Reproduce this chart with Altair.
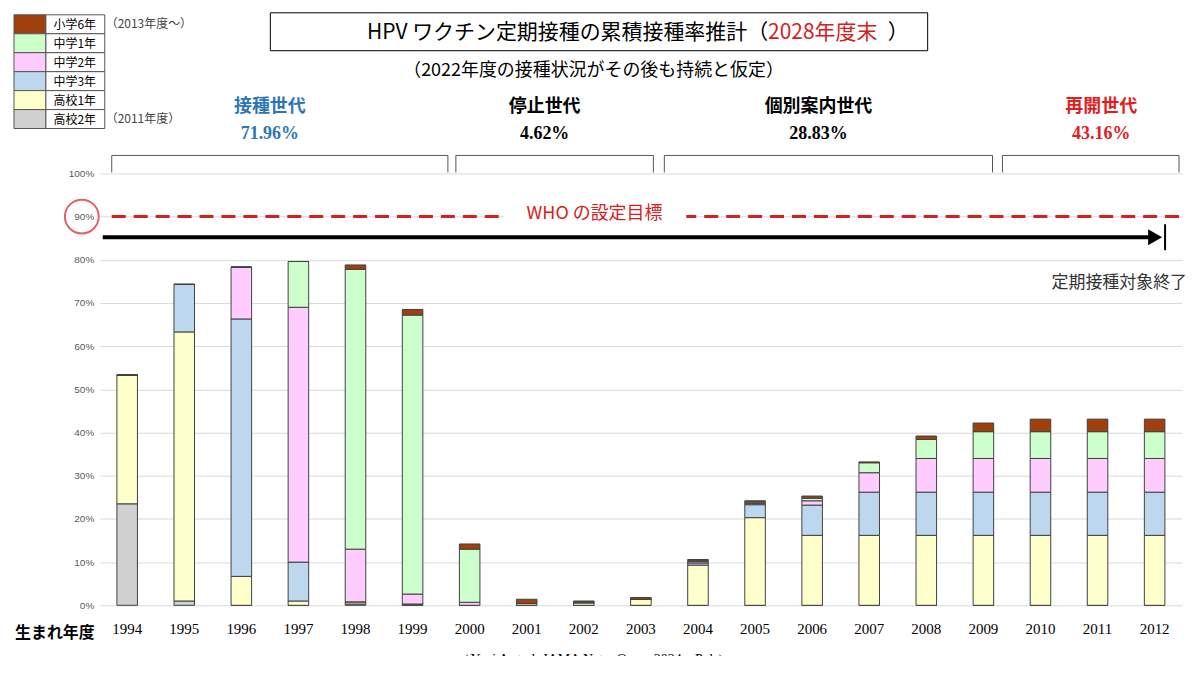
import pandas as pd
import altair as alt

years = [str(y) for y in range(1994, 2013)]
cats = ['高校2年', '高校1年', '中学3年', '中学2年', '中学1年', '小学6年']
colors = ['#d0d0d0', '#ffffcc', '#bdd7ee', '#ffccff', '#ccffcc', '#a0410d']

# values in % per cohort, bottom to top (高校2年 ... 小学6年)
koko2 = [23.5, 1.0, 0, 0, 0.3, 0, 0, 0, 0, 0, 0, 0, 0, 0, 0, 0, 0, 0, 0]
koko1 = [29.8, 62.3, 6.7, 1.0, 0.5, 0.3, 0, 0, 0.6, 1.4, 9.3, 20.3, 16.2, 16.2, 16.2, 16.2, 16.2, 16.2, 16.2]
chu3 = [0, 11.0, 59.6, 9.0, 0, 0, 0, 0, 0, 0, 0.5, 3.0, 7.0, 10.0, 10.0, 10.0, 10.0, 10.0, 10.0]
chu2 = [0, 0, 12.0, 59.0, 12.2, 2.3, 0.7, 0, 0, 0, 0.3, 0.3, 1.0, 4.5, 7.8, 7.8, 7.8, 7.8, 7.8]
chu1 = [0, 0, 0, 10.6, 64.8, 64.6, 12.3, 0.4, 0.2, 0, 0.2, 0.3, 0.6, 2.3, 4.4, 6.2, 6.2, 6.2, 6.2]
sho6 = [0, 0, 0, 0, 1.0, 1.3, 1.2, 1.0, 0.2, 0.4, 0.3, 0.3, 0.5, 0.2, 0.8, 2.0, 2.9, 2.9, 2.9]
series = [koko2, koko1, chu3, chu2, chu1, sho6]

gen_names = ['接種世代', '停止世代', '個別案内世代', '再開世代']
gen_rates = ['71.96%', '4.62%', '28.83%', '43.16%']
gen_colors = ['#2e75b6', '#000000', '#000000', '#e02020']
gen_spans = [(112, 449), (457, 655), (666, 995), (1005, 1182)]

rows = []
for k, (c, vals) in enumerate(zip(cats, series)):
    for y, v in zip(years, vals):
        rows.append({'year': y, 'cat': c, 'value': v, 'k': k})
df = pd.DataFrame(rows)

OX, OY = 100, 173  # plot origin in the page


def px(x):
    return x - OX


def py(y):
    return y - OY


bars = alt.Chart(df).mark_bar(stroke='#404040', strokeWidth=1).encode(
    x=alt.X('year:N', title=None, sort=years,
            scale=alt.Scale(paddingInner=0.64, paddingOuter=0.3),
            axis=alt.Axis(labelAngle=0, labelFont='Liberation Serif', labelFontSize=15,
                          labelColor='black', labelPadding=16, ticks=False, domain=False)),
    y=alt.Y('value:Q', title=None, stack='zero',
            scale=alt.Scale(domain=[0, 100]),
            axis=alt.Axis(values=list(range(0, 101, 10)), labelExpr="datum.value + '%'",
                          labelFontSize=10, labelColor='#595959', ticks=False, domain=False,
                          gridColor='#d9d9d9', labelPadding=6)),
    color=alt.Color('cat:N', scale=alt.Scale(domain=cats, range=colors), legend=None),
    order=alt.Order('k:Q', sort='ascending'),
)

# WHO target line
who = alt.Chart(pd.DataFrame({'v': [90]})).mark_rule(
    color='#d62020', strokeWidth=3, strokeDash=[14, 8]).encode(
    y='v:Q', x=alt.value(px(112)), x2=alt.value(px(1185)))
who_bg = alt.Chart(pd.DataFrame({'a': [0]})).mark_rect(color='white').encode(
    x=alt.value(px(505)), x2=alt.value(px(688)), y=alt.value(py(203)), y2=alt.value(py(226)))
who_txt = alt.Chart(pd.DataFrame({'t': ['WHO の設定目標']})).mark_text(
    color='#d62020', fontSize=18, font='Noto Sans CJK JP').encode(
    text='t:N', x=alt.value(px(596)), y=alt.value(py(214)))
circle = alt.Chart(pd.DataFrame({'v': [90]})).mark_point(
    shape='circle', size=1150, color='#d62020', strokeWidth=2, filled=False).encode(
    y='v:Q', x=alt.value(px(82)))

# end-of-routine arrow
arrow = alt.Chart(pd.DataFrame({'a': [0]})).mark_rule(color='black', strokeWidth=4).encode(
    x=alt.value(px(103)), x2=alt.value(px(1158)), y=alt.value(py(237)))
arrow_head = alt.Chart(pd.DataFrame({'a': [0]})).mark_point(
    shape='triangle-right', size=260, color='black', filled=True, opacity=1).encode(
    x=alt.value(px(1158)), y=alt.value(py(237)))
arrow_bar = alt.Chart(pd.DataFrame({'a': [0]})).mark_rule(color='black', strokeWidth=2).encode(
    x=alt.value(px(1168)), y=alt.value(py(224)), y2=alt.value(py(250)))
end_txt = alt.Chart(pd.DataFrame({'t': ['定期接種対象終了']})).mark_text(
    align='right', color='#333333', fontSize=17, font='Noto Sans CJK JP').encode(
    text='t:N', x=alt.value(px(1190)), y=alt.value(py(283)))

# generation brackets and labels
br_rows, lab_rows = [], []
for (x0, x1), n, r, c in zip(gen_spans, gen_names, gen_rates, gen_colors):
    br_rows += [{'x': px(x0), 'x2': px(x1), 'y': py(155), 'y2': py(155)},
                {'x': px(x0), 'x2': px(x0), 'y': py(155), 'y2': py(172)},
                {'x': px(x1), 'x2': px(x1), 'y': py(155), 'y2': py(172)}]
    lab_rows.append({'x': px((x0 + x1) / 2 - 10 if n != '再開世代' else 1104), 'n': n, 'r': r, 'c': c})
brackets = alt.Chart(pd.DataFrame(br_rows)).mark_rule(color='#555555', strokeWidth=1).encode(
    x=alt.X('x:Q', scale=None), x2='x2:Q', y=alt.Y('y:Q', scale=None), y2='y2:Q')
labdf = pd.DataFrame(lab_rows)
gen_name_txt = alt.Chart(labdf).mark_text(fontSize=18, fontWeight='bold', font='Noto Sans CJK JP').encode(
    x=alt.X('x:Q', scale=None), y=alt.value(py(106)), text='n:N',
    color=alt.Color('c:N', scale=None))
gen_rate_txt = alt.Chart(labdf).mark_text(fontSize=18, fontWeight='bold', font='Liberation Serif').encode(
    x=alt.X('x:Q', scale=None), y=alt.value(py(134)), text='r:N',
    color=alt.Color('c:N', scale=None))

# title box
title_box = alt.Chart(pd.DataFrame({'a': [0]})).mark_rect(
    fill='white', stroke='black', strokeWidth=1).encode(
    x=alt.value(px(271)), x2=alt.value(px(930)), y=alt.value(py(12)), y2=alt.value(py(50)))
t1 = alt.Chart(pd.DataFrame({'t': ['HPV ワクチン定期接種の累積接種率推計（']})).mark_text(
    align='right', fontSize=21, font='Noto Sans CJK JP', color='black').encode(
    text='t:N', x=alt.value(px(770)), y=alt.value(py(32)))
t2 = alt.Chart(pd.DataFrame({'t': ['2028年度末']})).mark_text(
    align='left', fontSize=21, font='Noto Sans CJK JP', color='#d62020').encode(
    text='t:N', x=alt.value(px(770)), y=alt.value(py(32)))
t3 = alt.Chart(pd.DataFrame({'t': ['）']})).mark_text(
    align='left', fontSize=21, font='Noto Sans CJK JP', color='black').encode(
    text='t:N', x=alt.value(px(890)), y=alt.value(py(32)))
sub = alt.Chart(pd.DataFrame({'t': ['（2022年度の接種状況がその後も持続と仮定）']})).mark_text(
    fontSize=18, font='Noto Sans CJK JP', color='black').encode(
    text='t:N', x=alt.value(px(595)), y=alt.value(py(70)))

# legend table
leg = pd.DataFrame({'cat': cats[::-1], 'c': colors[::-1], 'i': range(6)})
leg['y'] = py(14) + leg['i'] * 19
leg['y2'] = leg['y'] + 19
leg_sw = alt.Chart(leg).mark_rect(stroke='#555555', strokeWidth=1).encode(
    x=alt.value(px(14)), x2=alt.value(px(46)), y=alt.Y('y:Q', scale=None), y2='y2:Q',
    fill=alt.Fill('c:N', scale=None))
leg_box = alt.Chart(leg).mark_rect(fill='white', stroke='#555555', strokeWidth=1).encode(
    x=alt.value(px(46)), x2=alt.value(px(105)), y=alt.Y('y:Q', scale=None), y2='y2:Q')
leg_txt = alt.Chart(leg).transform_calculate(ym='datum.y + 10').mark_text(
    fontSize=12, font='Noto Sans CJK JP', color='black').encode(
    x=alt.value(px(75)), y=alt.Y('ym:Q', scale=None), text='cat:N')
notes = pd.DataFrame({'t': ['（2013年度〜）', '（2011年度）'], 'y': [py(23), py(118)]})
leg_notes = alt.Chart(notes).mark_text(
    align='left', fontSize=12, font='Noto Sans CJK JP', color='#444444').encode(
    x=alt.value(px(106)), y=alt.Y('y:Q', scale=None), text='t:N')

# bottom texts
xlab = alt.Chart(pd.DataFrame({'t': ['生まれ年度']})).mark_text(
    fontSize=16, fontWeight='bold', font='Noto Sans CJK JP', color='black').encode(
    text='t:N', x=alt.value(px(55)), y=alt.value(py(634)))
src = alt.Chart(pd.DataFrame({'t': ['（Yagi A et al. JAMA Netw Open. 2024, ePub）']})).mark_text(
    fontSize=14, font='Liberation Serif', color='black').encode(
    text='t:N', x=alt.value(px(595)), y=alt.value(py(661)))

chart = alt.layer(
    bars, who, who_bg, who_txt, circle, arrow, arrow_head, arrow_bar, end_txt,
    brackets, gen_name_txt, gen_rate_txt, title_box, t1, t2, t3, sub,
    leg_sw, leg_box, leg_txt, leg_notes, xlab, src
).properties(
    width=1085, height=433,
    autosize=alt.AutoSizeParams(type='none'),
    padding={'left': 92, 'top': 165, 'right': 10, 'bottom': 50},
).configure_view(stroke=None)

chart.save("out.html", embed_options={"renderer": "svg", "actions": False})
